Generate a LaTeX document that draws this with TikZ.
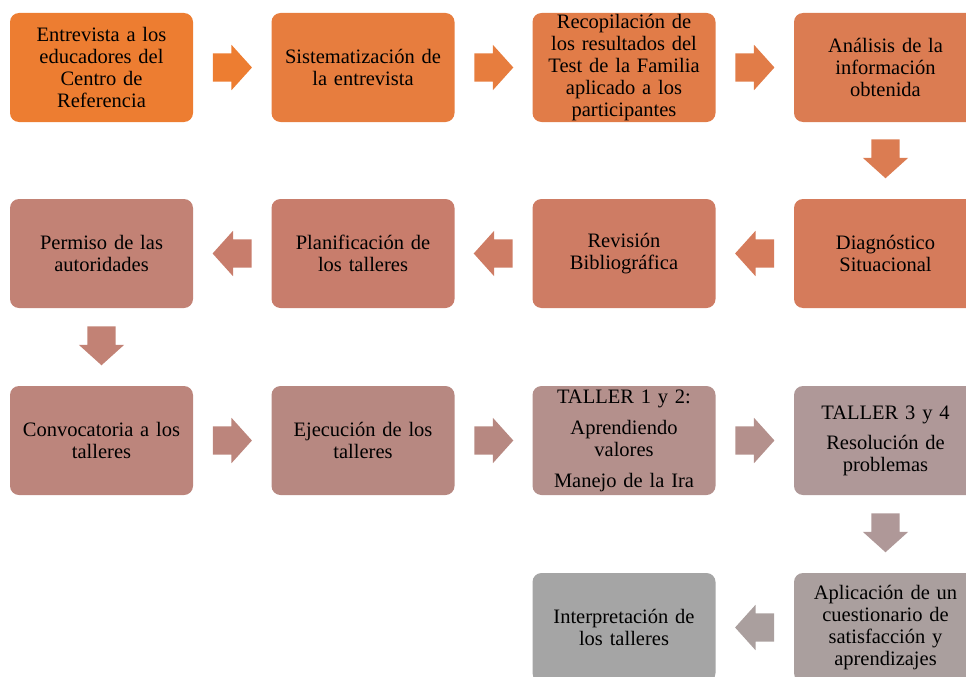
\documentclass[tikz,border=0pt]{standalone}
\usepackage{fontspec}
\setmainfont{Liberation Serif}
\usepackage{tikz}
\usetikzlibrary{calc,positioning,shapes.arrows}

\definecolor{c1}{RGB}{237,125,49}
\definecolor{c2}{RGB}{231,125,62}
\definecolor{c3}{RGB}{225,124,72}
\definecolor{c4}{RGB}{219,124,82}
\definecolor{c5}{RGB}{213,123,91}
\definecolor{c6}{RGB}{206,124,100}
\definecolor{c7}{RGB}{200,125,108}
\definecolor{c8}{RGB}{194,130,117}
\definecolor{c9}{RGB}{188,133,124}
\definecolor{c10}{RGB}{183,136,129}
\definecolor{c11}{RGB}{180,144,140}
\definecolor{c12}{RGB}{175,152,152}
\definecolor{c13}{RGB}{170,159,158}
\definecolor{c14}{RGB}{165,165,165}

\tikzset{
	box/.style={rectangle, rounded corners=9pt, minimum width=183pt, minimum height=109pt,
		inner sep=0pt, text width=180pt, align=center, font=\fontsize{20.5}{22}\selectfont},
	blockarrow/.style={single arrow, draw=none, anchor=tail, minimum height=39pt,
		single arrow head extend=8.5pt, single arrow tip angle=96},
	rarrow/.style={blockarrow, inner xsep=0pt, inner ysep=14pt},
	larrow/.style={blockarrow, inner xsep=0pt, inner ysep=14pt, shape border rotate=180},
	darrow/.style={blockarrow, inner xsep=14pt, inner ysep=0pt, shape border rotate=270}
}

\begin{document}
\begin{tikzpicture}[x=1pt,y=-1pt]
		\useasboundingbox (0,0) rectangle (966,677);

		\node[box, fill=c1] (entrevista) at (101.5,67.5) {Entrevista a los\\ educadores del\\ Centro de\\ Referencia};
		\node[box, fill=c2] (sistema) at (363,67.5) {Sistematización de\\ la entrevista};
		\node[box, fill=c3] (recopila) at (624,67.5) {Recopilación de\\ los resultados del\\ Test de la Familia\\ aplicado a los\\ participantes};
		\node[box, fill=c4] (analisis) at (885.5,67.5) {Análisis de la\\ información\\ obtenida};

		\node[box, fill=c5] (diagnostico) at (885.5,253.5) {Diagnóstico\\ Situacional};
		\node[box, fill=c6] (revision) at (624,253.5) {Revisión\\ Bibliográfica};
		\node[box, fill=c7] (planifica) at (363,253.5) {Planificación de\\ los talleres};
		\node[box, fill=c8] (permiso) at (101.5,253.5) {Permiso de las\\ autoridades};

		\node[box, fill=c9] (convoca) at (101.5,440.5) {Convocatoria a los\\ talleres};
		\node[box, fill=c10] (ejecuta) at (363,440.5) {Ejecución de los\\ talleres};
		\node[box, fill=c11] (tallerA) at (624,440.5) {TALLER 1 y 2:\\[9pt] Aprendiendo\\ valores\\[9pt] Manejo de la Ira};
		\node[box, fill=c12] (tallerB) at (885.5,440.5) {TALLER 3 y 4\\[8pt] Resolución de\\ problemas};

		\node[box, fill=c13] (aplica) at (885.5,627.5) {Aplicación de un\\ cuestionario de\\ satisfacción y\\ aprendizajes};
		\node[box, fill=c14] (interpreta) at (624,627.5) {Interpretación de\\ los talleres};

		\node[rarrow, fill=c1] (a1) at ($(entrevista.east)!0.25!(sistema.west)$) {};
		\node[rarrow, fill=c2] (a2) at ($(sistema.east)!0.25!(recopila.west)$) {};
		\node[rarrow, fill=c3] (a3) at ($(recopila.east)!0.25!(analisis.west)$) {};
		\node[darrow, fill=c4] (a4) at ($(analisis.south)!0.22!(diagnostico.north)$) {};
		\node[larrow, fill=c5] (a5) at ($(diagnostico.west)!0.25!(revision.east)$) {};
		\node[larrow, fill=c6] (a6) at ($(revision.west)!0.25!(planifica.east)$) {};
		\node[larrow, fill=c7] (a7) at ($(planifica.west)!0.25!(permiso.east)$) {};
		\node[darrow, fill=c8] (a8) at ($(permiso.south)!0.23!(convoca.north)$) {};
		\node[rarrow, fill=c9] (a9) at ($(convoca.east)!0.25!(ejecuta.west)$) {};
		\node[rarrow, fill=c10] (a10) at ($(ejecuta.east)!0.25!(tallerA.west)$) {};
		\node[rarrow, fill=c11] (a11) at ($(tallerA.east)!0.25!(tallerB.west)$) {};
		\node[darrow, fill=c12] (a12) at ($(tallerB.south)!0.23!(aplica.north)$) {};
		\node[larrow, fill=c13] (a13) at ($(aplica.west)!0.25!(interpreta.east)$) {};
	\end{tikzpicture}
\end{document}
